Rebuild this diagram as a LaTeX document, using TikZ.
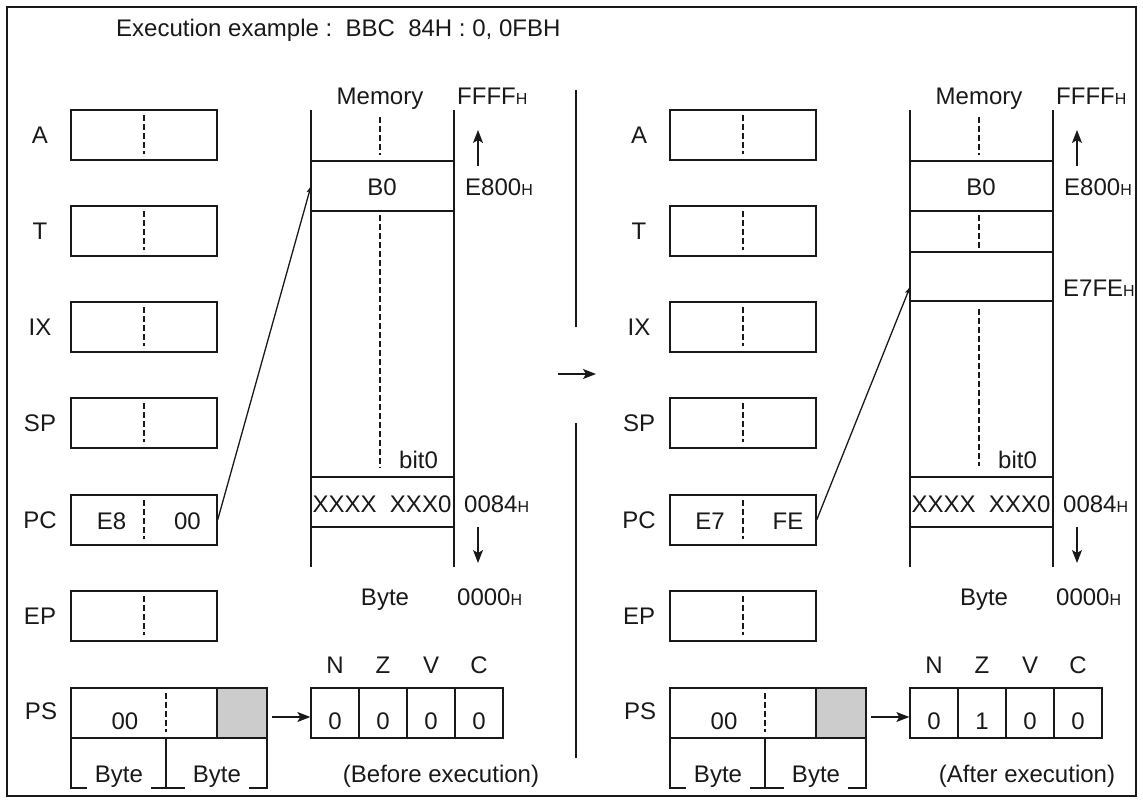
\documentclass[tikz,border=0pt]{standalone}
\usepackage{fontspec}
\setmainfont{Liberation Sans}
\usetikzlibrary{arrows.meta}
\definecolor{ink}{gray}{0.1}
\definecolor{psgray}{gray}{0.8}
\newcommand{\hs}{{\fontsize{16}{17}\selectfont H}}
\begin{document}
\begin{tikzpicture}[x=1pt,y=-1pt,
  txt/.style={font=\fontsize{24}{27}\selectfont, inner sep=0pt, anchor=base, text=ink},
  regbox/.style={draw=ink, line width=1.3pt, minimum width=146pt, minimum height=50pt, inner sep=0pt},
  cell/.style={draw=ink, line width=1.3pt, minimum width=48pt, minimum height=50pt, inner sep=0pt},
  dsh/.style={draw=ink, line width=1.2pt, dash pattern=on 5.5pt off 3.5pt},
  mline/.style={draw=ink, line width=1.3pt},
  bigarrow/.style={draw=ink, line width=1.3pt, -{Stealth[length=13pt,width=10pt,inset=3pt]}},
  ptr/.style={draw=ink, line width=1.3pt, -{Stealth[length=7pt,width=5pt,inset=1.5pt]}},
  brk/.style={txt, fill=white, inner xsep=8pt, inner ysep=2pt}
]
\useasboundingbox (0,0) rectangle (1143,803);
\draw[ink, line width=2pt] (7,7) rectangle (1136,796);

\node[txt, anchor=base west] (title) at (116,36) {Execution example :\ \ BBC\ \ 84H : 0, 0FBH};

\foreach \p/\dx in {L/0,R/599}{
\begin{scope}[xshift=\dx]
  % registers
  \foreach \r/\yc in {A/135,T/231,IX/327,SP/423,PC/520,EP/616}{
    \node[regbox] (\p-\r) at (144,\yc) {};
    \node[txt] (\p-\r-lbl) at (40,\yc+8) {\r};
    \draw[dsh] (144,\yc-20) -- (144,\yc+19);
  }
  % PS
  \fill[psgray] (217,688) rectangle (267,738);
  \node[regbox, minimum width=196pt] (\p-PS) at (169,713) {};
  \draw[mline] (217,688) -- (217,738);
  \draw[dsh] (166,693) -- (166,732);
  \node[txt] (\p-PS-lbl) at (41,719) {PS};
  \node[txt] (\p-PS-val) at (125,729) {00};
  % byte brackets
  \draw[mline] (71,738) -- (71,788) -- (267,788) -- (267,738);
  \draw[mline] (166,738) -- (166,788);
  \node[brk] (\p-by1) at (119,782) {Byte};
  \node[brk] (\p-by2) at (217,782) {Byte};
  % flags
  \foreach \f/\fx in {N/335,Z/383,V/431,C/479}{
    \node[cell] (\p-f\f) at (\fx,713) {};
    \node[txt] (\p-l\f) at (\fx,673) {\f};
  }
  \draw[bigarrow] ([xshift=4pt,yshift=-4pt]\p-PS.east) -- ([yshift=-4pt]\p-fN.west);
  % memory column
  \draw[mline] (311,110) -- (311,567);
  \draw[mline] (454,110) -- (454,567);
  \draw[mline] (311,161) -- (454,161);
  \draw[mline] (311,211) -- (454,211);
  \draw[mline] (311,477) -- (454,477);
  \draw[mline] (311,527) -- (454,527);
  \draw[dsh] (380,117) -- (380,155);
  \node[txt] (\p-mem) at (380,104) {Memory};
  \node[txt, anchor=base west] (\p-ffff) at (457,104) {FFFF\hs};
  \coordinate (\p-up1) at (478,166);
  \coordinate (\p-up2) at (478,130);
  \draw[bigarrow] (\p-up1) -- (\p-up2);
  \node[txt] (\p-b0) at (382,195) {B0};
  \node[txt, anchor=base west] (\p-e800) at (465,195) {E800\hs};
  \node[txt, anchor=base west] (\p-bit0) at (399,468) {bit0};
  \node[txt] (\p-xx) at (382,512) {XXXX\ \ XXX0};
  \node[txt, anchor=base west] (\p-0084) at (464,512) {0084\hs};
  \coordinate (\p-dn1) at (478,527);
  \coordinate (\p-dn2) at (478,563);
  \draw[bigarrow] (\p-dn1) -- (\p-dn2);
  \node[txt] (\p-byte) at (385,605) {Byte};
  \node[txt, anchor=base west] (\p-0000) at (457,605) {0000\hs};
\end{scope}
}

% left-specific
\node[txt] (L-pchi) at (111.5,529) {E8};
\node[txt] (L-pclo) at (187.5,529) {00};
\draw[dsh] (380,215) -- (380,468);
\coordinate (L-tgt) at (311,186);
\draw[ptr] (L-PC.east) -- (L-tgt);
\foreach \f in {N,Z,V,C}{\node[txt] at ([yshift=-16pt]L-f\f.center) {0};}
\node[txt] (L-cap) at (441,782) {(Before execution)};

% separator and middle arrow
\draw[mline] (576,90) -- (576,327);
\draw[mline] (576,423) -- (576,758);
\coordinate (mid1) at (558,374);
\coordinate (mid2) at (596,374);
\draw[bigarrow] (mid1) -- (mid2);

% right-specific
\node[txt] (R-pchi) at (710,529) {E7};
\node[txt] (R-pclo) at (788,529) {FE};
\draw[mline] (910,252) -- (1053,252);
\draw[mline] (910,301) -- (1053,301);
\draw[dsh] (979,215) -- (979,252);
\draw[dsh] (979,309) -- (979,466);
\node[txt, anchor=base west] (R-e7fe) at (1063,296) {E7FE\hs};
\coordinate (R-tgt) at (910,287);
\draw[ptr] (R-PC.east) -- (R-tgt);
\node[txt] at ([yshift=-16pt]R-fN.center) {0};
\node[txt] at ([yshift=-16pt]R-fZ.center) {1};
\node[txt] at ([yshift=-16pt]R-fV.center) {0};
\node[txt] at ([yshift=-16pt]R-fC.center) {0};
\node[txt] (R-cap) at (1027,782) {(After execution)};
\end{tikzpicture}
\end{document}
